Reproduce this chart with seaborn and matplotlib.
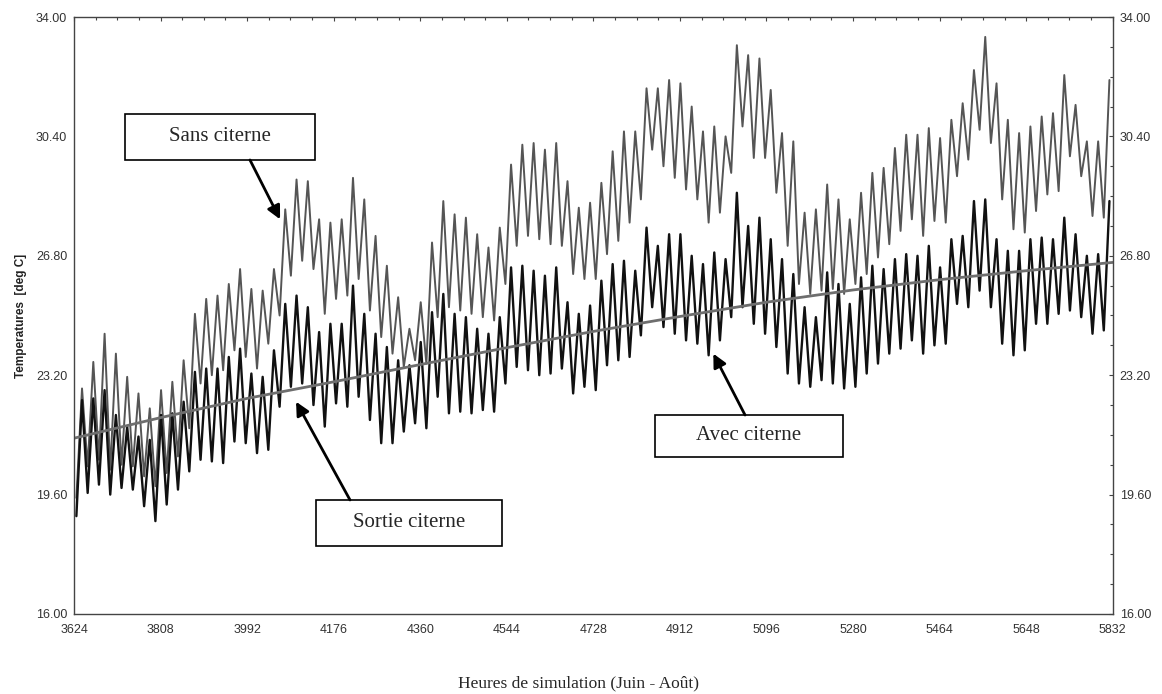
import numpy as np
import pandas as pd
import seaborn as sns
import matplotlib.pyplot as plt
from matplotlib.ticker import FormatStrFormatter
from matplotlib.patches import Rectangle

# Simulation hours (June - August), one daily min and max per series
START_HOUR = 3624
END_HOUR = 5832
TROUGH_HOUR = 5
PEAK_HOUR = 17

x_ticks = [3624, 3808, 3992, 4176, 4360, 4544, 4728, 4912, 5096, 5280, 5464, 5648, 5832]
y_ticks = [16.0, 19.6, 23.2, 26.8, 30.4, 34.0]

# Sans citerne (daily maxima / minima, deg C)
sans_peaks = [
    22.8, 23.6, 24.45, 23.85, 23.15, 22.65, 22.2, 22.75, 23.0, 23.65,
    25.05, 25.5, 25.6, 25.95, 26.4, 25.8, 25.75, 26.4, 28.2, 29.1,
    29.05, 27.9, 27.8, 27.9, 29.15, 28.5, 27.4, 26.5, 25.55, 24.6,
    25.4, 27.2, 28.45, 28.05, 27.95, 27.45, 27.05, 27.65, 29.55, 30.15,
    30.2, 30.0, 30.2, 29.05, 28.25, 28.4, 29.0, 29.95, 30.55, 30.55,
    31.85, 31.85, 32.1, 32.0, 31.3, 30.55, 30.7, 30.4, 33.15, 32.85,
    32.75, 31.8, 30.5, 30.25, 28.1, 28.2, 28.95, 28.5, 27.9, 28.7,
    29.3, 29.45, 30.05, 30.45, 30.45, 30.65, 30.35, 30.9, 31.4, 32.4,
    33.4, 32.0, 30.9, 30.5, 30.7, 31.0, 31.1, 32.25, 31.35, 30.25,
    30.25, 32.1,
]
sans_troughs = [
    19.5, 20.45, 20.65, 20.35, 20.5, 20.45, 20.15, 19.85, 20.25, 20.75,
    21.6, 22.95, 23.2, 23.35, 23.95, 23.75, 23.4, 24.15, 25.0, 26.2,
    26.65, 26.4, 25.05, 25.5, 25.6, 26.1, 25.15, 24.35, 23.85, 23.45,
    23.65, 23.55, 24.95, 25.25, 25.15, 25.05, 24.95, 24.85, 25.95, 27.1,
    27.4, 27.3, 27.15, 27.1, 26.25, 26.1, 26.1, 26.85, 27.25, 27.8,
    28.5, 30.0, 29.5, 29.15, 28.8, 28.5, 27.8, 28.1, 29.3, 30.7,
    29.75, 29.75, 28.7, 27.1, 25.95, 25.65, 25.75, 25.8, 25.65, 25.95,
    26.25, 26.75, 27.15, 27.55, 27.9, 27.4, 27.85, 27.8, 29.2, 29.7,
    30.6, 30.2, 28.5, 27.6, 27.5, 28.15, 28.65, 28.75, 29.8, 29.2,
    28.0, 27.95,
]

# Avec citerne
avec_peaks = [
    22.45, 22.5, 22.75, 22.0, 21.65, 21.35, 21.25, 22.0, 22.05, 22.4,
    23.3, 23.4, 23.4, 23.75, 24.0, 23.25, 23.15, 23.95, 25.35, 25.6,
    25.25, 24.5, 24.75, 24.75, 25.9, 25.05, 24.45, 24.05, 23.65, 23.5,
    24.2, 25.1, 25.65, 25.05, 24.95, 24.6, 24.45, 24.95, 26.45, 26.5,
    26.35, 26.2, 26.45, 25.4, 25.05, 25.3, 26.05, 26.55, 26.65, 26.35,
    27.65, 27.1, 27.45, 27.45, 26.8, 26.55, 26.9, 26.7, 28.7, 27.7,
    27.95, 27.3, 26.7, 26.25, 25.25, 24.95, 26.3, 25.95, 25.35, 26.15,
    26.5, 26.4, 26.7, 26.85, 26.8, 27.1, 26.45, 27.3, 27.4, 28.45,
    28.5, 27.3, 26.95, 26.95, 27.3, 27.35, 27.3, 27.95, 27.45, 26.8,
    26.85, 28.45,
]
avec_troughs = [
    18.95, 19.65, 19.9, 19.6, 19.8, 19.75, 19.25, 18.8, 19.3, 19.75,
    20.3, 20.65, 20.6, 20.55, 21.2, 21.15, 20.85, 20.95, 22.25, 22.85,
    22.95, 22.3, 21.65, 22.35, 22.25, 22.55, 21.85, 21.15, 21.15, 21.5,
    21.75, 21.6, 22.55, 22.05, 22.1, 22.05, 22.15, 22.1, 22.95, 23.45,
    23.35, 23.2, 23.25, 23.4, 22.65, 22.85, 22.75, 23.5, 23.65, 23.75,
    24.4, 25.25, 24.65, 24.45, 24.25, 24.15, 23.8, 24.25, 24.95, 25.25,
    24.75, 24.45, 24.05, 23.25, 22.95, 22.85, 23.05, 22.95, 22.8, 22.85,
    23.25, 23.55, 23.85, 24.0, 24.25, 23.85, 24.1, 24.15, 25.35, 25.25,
    25.75, 25.25, 24.15, 23.8, 23.95, 24.75, 24.75, 25.05, 25.15, 24.95,
    24.45, 24.55,
]

# Sortie citerne (smooth)
sortie_hours = [3624, 3808, 3992, 4176, 4360, 4544, 4728, 4912, 5096, 5280, 5464, 5648, 5832]
sortie_temps = [21.3, 21.92, 22.5, 23.0, 23.52, 24.03, 24.52, 24.97, 25.4, 25.77, 26.08, 26.35, 26.6]


def daily_cycle(troughs, peaks):
    rows = []
    for d, (lo, hi) in enumerate(zip(troughs, peaks)):
        rows.append((START_HOUR + 24 * d + TROUGH_HOUR, lo))
        rows.append((START_HOUR + 24 * d + PEAK_HOUR, hi))
    return pd.DataFrame(rows, columns=['hour', 'temp'])


df_sans = daily_cycle(sans_troughs, sans_peaks)
df_avec = daily_cycle(avec_troughs, avec_peaks)
df_sortie = pd.DataFrame({'hour': sortie_hours, 'temp': sortie_temps})

sns.set_theme(style='white')
plt.rcParams['font.family'] = ['Liberation Sans', 'DejaVu Sans']

fig, ax = plt.subplots(figsize=(11.62, 6.94), dpi=100)
fig.subplots_adjust(left=0.0637, right=0.9576, bottom=0.1153, top=0.9755)

sns.lineplot(data=df_sans, x='hour', y='temp', color='#555555', lw=1.4,
             estimator=None, sort=False, ax=ax)
sns.lineplot(data=df_avec, x='hour', y='temp', color='#111111', lw=1.7,
             estimator=None, sort=False, ax=ax)
sns.lineplot(data=df_sortie, x='hour', y='temp', color='#6e6e6e', lw=2.0,
             estimator=None, sort=False, ax=ax)

# Axes
ax.set_xlim(START_HOUR, END_HOUR)
ax.set_ylim(16, 34)
ax.set_xticks(x_ticks)
ax.set_xticks(np.arange(START_HOUR, END_HOUR + 1, 46), minor=True)
ax.set_yticks(y_ticks)
ax.set_yticks(np.arange(16, 34.01, 0.9), minor=True)
ax.yaxis.set_major_formatter(FormatStrFormatter('%.2f'))
ax.tick_params(axis='both', which='both', direction='in', colors='#444444',
               labelcolor='#333333', labelsize=9, top=True, right=True,
               labelright=True)
ax.tick_params(which='major', length=3, width=0.8)
ax.tick_params(which='minor', length=2.5, width=0.8)
ax.tick_params(axis='x', pad=7)
ax.tick_params(axis='y', pad=5)
for side in ax.spines.values():
    side.set_color('#444444')
    side.set_linewidth(1.0)

ax.set_xlabel('')
ax.set_ylabel('Temperatures  [deg C]', fontsize=8.5, fontweight='bold',
              color='#222222', labelpad=6)
fig.text(0.498, 1 - 683 / 694, 'Heures de simulation (Juin - Août)',
         ha='center', va='center', fontsize=12.5,
         family=['Liberation Serif', 'DejaVu Serif'])


# Labelled boxes with arrows
def label_box(text, x0, x1, y0, y1, tail, tip):
    ax.add_patch(Rectangle((x0, y0), x1 - x0, y1 - y0, transform=ax.transAxes,
                           facecolor='white', edgecolor='black', lw=1.2, zorder=5))
    ax.text((x0 + x1) / 2, (y0 + y1) / 2, text, transform=ax.transAxes,
            ha='center', va='center', fontsize=15, zorder=6,
            family=['Liberation Serif', 'DejaVu Serif'])
    ax.annotate('', xy=tip, xycoords='data', xytext=tail, textcoords='axes fraction',
                arrowprops=dict(arrowstyle='-|>', color='black', lw=2.0,
                                mutation_scale=20, shrinkA=0, shrinkB=0),
                zorder=6)


label_box('Sans citerne', 0.0491, 0.232, 0.7605, 0.8375, (0.1694, 0.7605), (4062, 27.9))
label_box('Sortie citerne', 0.2329, 0.4119, 0.1139, 0.191, (0.2657, 0.191), (4096, 22.4))
label_box('Avec citerne', 0.5593, 0.7403, 0.263, 0.3333, (0.646, 0.3333), (4983, 23.85))

fig.savefig('out.png', dpi=100)
